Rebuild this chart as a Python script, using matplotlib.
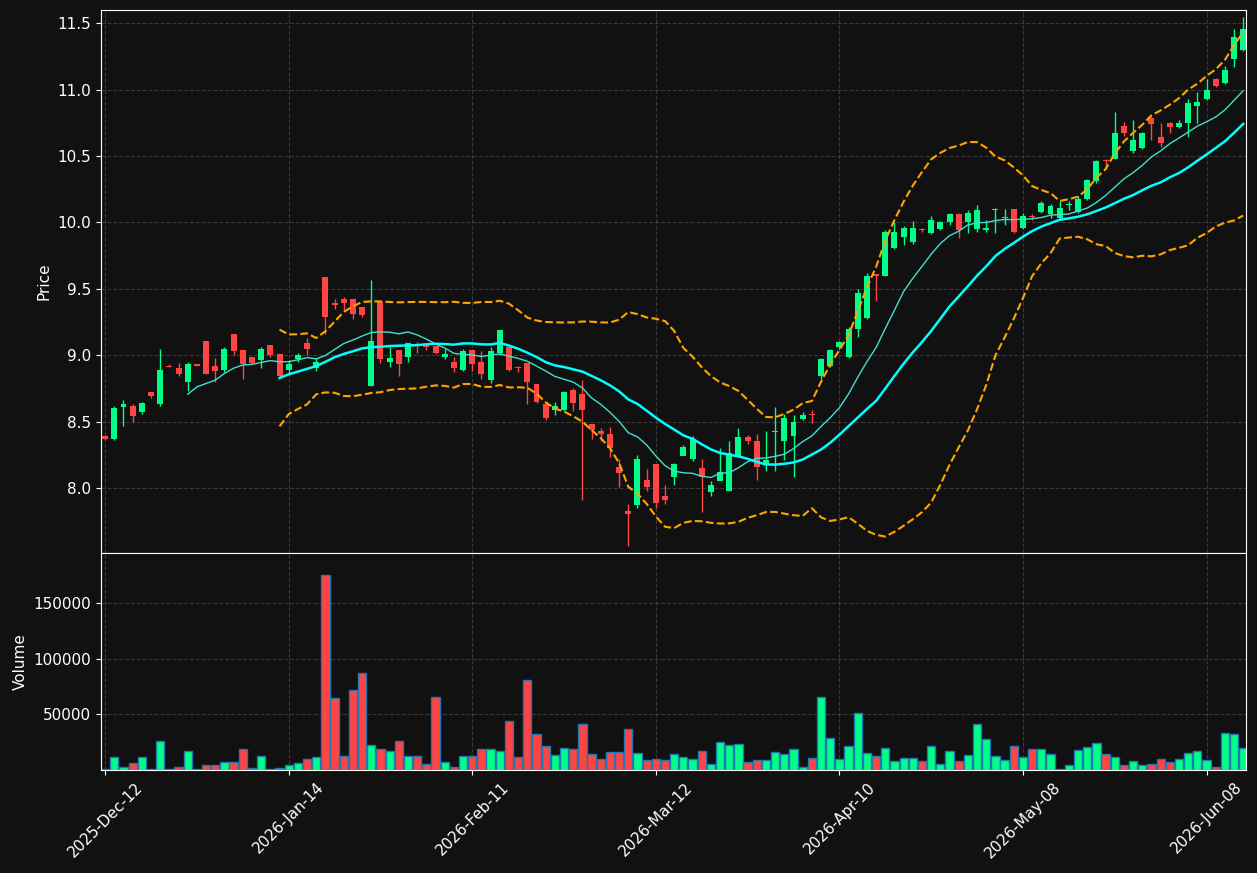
import numpy as np
import matplotlib
matplotlib.use("Agg")
import matplotlib.pyplot as plt

# daily bars
opens = [8.39, 8.37, 8.61, 8.62, 8.57, 8.72, 8.63, 8.92, 8.90, 8.80, 8.93, 9.11, 8.92, 8.89, 9.16, 9.04, 8.99, 8.96, 9.08, 9.01,
         8.89, 8.97, 9.09, 8.90, 9.59, 9.39, 9.42, 9.42, 9.36, 8.77, 9.40, 8.95, 9.04, 8.99, 9.08, 9.08, 9.07, 8.99, 8.95, 8.89,
         9.04, 8.95, 8.81, 9.02, 9.06, 8.91, 8.94, 8.78, 8.63, 8.59, 8.59, 8.74, 8.71, 8.48, 8.43, 8.41, 8.16, 7.83, 7.87, 8.06,
         8.18, 7.94, 8.08, 8.24, 8.22, 8.15, 7.97, 8.05, 7.98, 8.24, 8.38, 8.35, 8.17, 8.42, 8.35, 8.39, 8.52, 8.56, 8.84, 8.92,
         9.06, 8.99, 9.20, 9.28, 9.61, 9.60, 9.81, 9.89, 9.85, 9.95, 9.92, 9.95, 10.00, 10.06, 10.00, 9.95, 9.94, 10.09, 10.03, 10.10,
         9.96, 10.05, 10.08, 10.06, 10.03, 10.13, 10.08, 10.18, 10.31, 10.47, 10.48, 10.73, 10.54, 10.56, 10.79, 10.64, 10.75, 10.72, 10.75, 10.88,
         10.93, 11.08, 11.05, 11.23, 11.30]
closes = [8.37, 8.60, 8.63, 8.54, 8.64, 8.69, 8.89, 8.91, 8.86, 8.93, 8.92, 8.86, 8.88, 9.05, 9.03, 8.93, 8.94, 9.05, 9.00, 8.84,
          8.93, 9.00, 9.05, 8.95, 9.29, 9.38, 9.39, 9.31, 9.30, 9.11, 8.97, 8.98, 8.93, 9.09, 9.07, 9.06, 9.02, 9.01, 8.90, 9.03,
          8.93, 8.86, 9.03, 9.19, 8.89, 8.90, 8.80, 8.65, 8.53, 8.62, 8.72, 8.64, 8.59, 8.44, 8.41, 8.30, 8.11, 7.80, 8.22, 8.01,
          7.89, 7.91, 8.18, 8.31, 8.37, 8.08, 8.02, 8.12, 8.26, 8.38, 8.35, 8.16, 8.21, 8.43, 8.53, 8.50, 8.55, 8.55, 8.97, 9.04,
          9.10, 9.20, 9.47, 9.60, 9.60, 9.93, 9.93, 9.96, 9.96, 9.94, 10.02, 10.00, 10.06, 9.94, 10.07, 10.09, 9.96, 10.10, 10.04, 9.93,
          10.05, 10.04, 10.15, 10.12, 10.11, 10.14, 10.18, 10.32, 10.46, 10.46, 10.67, 10.67, 10.62, 10.67, 10.74, 10.60, 10.72, 10.75, 10.90, 10.91,
          11.00, 11.03, 11.15, 11.40, 11.46]
highs = [8.40, 8.62, 8.66, 8.63, 8.65, 8.72, 9.05, 8.93, 8.94, 8.95, 8.93, 9.11, 8.98, 9.06, 9.16, 9.04, 8.99, 9.06, 9.08, 9.01,
         8.96, 9.02, 9.13, 8.98, 9.59, 9.42, 9.44, 9.42, 9.36, 9.57, 9.40, 9.06, 9.04, 9.09, 9.10, 9.08, 9.07, 9.05, 8.99, 9.05,
         9.04, 9.03, 9.06, 9.19, 9.06, 8.92, 8.94, 8.78, 8.63, 8.65, 8.73, 8.75, 8.81, 8.48, 8.45, 8.46, 8.22, 7.88, 8.25, 8.14,
         8.18, 8.02, 8.19, 8.32, 8.39, 8.22, 8.05, 8.30, 8.35, 8.45, 8.40, 8.41, 8.43, 8.61, 8.56, 8.55, 8.57, 8.59, 8.98, 9.05,
         9.11, 9.21, 9.50, 9.62, 9.61, 9.94, 10.00, 9.97, 10.01, 9.96, 10.05, 10.01, 10.07, 10.07, 10.09, 10.13, 10.02, 10.11, 10.10, 10.10,
         10.07, 10.06, 10.16, 10.14, 10.16, 10.16, 10.20, 10.33, 10.47, 10.48, 10.83, 10.76, 10.77, 10.68, 10.80, 10.75, 10.76, 10.77, 10.93, 10.98,
         11.08, 11.09, 11.18, 11.46, 11.55]
lows = [8.36, 8.36, 8.47, 8.50, 8.56, 8.68, 8.62, 8.91, 8.84, 8.73, 8.92, 8.86, 8.80, 8.87, 9.00, 8.82, 8.93, 8.90, 8.99, 8.84,
        8.86, 8.95, 9.00, 8.88, 9.16, 9.35, 9.34, 9.27, 9.29, 8.77, 8.94, 8.91, 8.84, 8.95, 9.02, 9.04, 9.01, 8.97, 8.87, 8.88,
        8.88, 8.82, 8.79, 9.00, 8.88, 8.87, 8.63, 8.64, 8.51, 8.55, 8.58, 8.58, 7.91, 8.37, 8.35, 8.23, 8.01, 7.56, 7.85, 7.98,
        7.85, 7.88, 8.02, 8.28, 8.20, 7.82, 7.94, 8.06, 7.98, 8.23, 8.33, 8.06, 8.13, 8.13, 8.21, 8.08, 8.51, 8.49, 8.82, 8.91,
        9.05, 8.98, 9.14, 9.27, 9.41, 9.60, 9.80, 9.83, 9.84, 9.93, 9.91, 9.94, 9.98, 9.88, 9.92, 9.93, 9.93, 9.92, 9.98, 9.92,
        9.95, 10.02, 10.07, 10.03, 10.02, 10.09, 10.07, 10.17, 10.30, 10.40, 10.48, 10.65, 10.52, 10.55, 10.62, 10.57, 10.67, 10.71, 10.64, 10.75,
        10.92, 11.02, 11.04, 11.17, 11.29]
volumes = [1200, 11300, 3000, 6000, 12000, 1200, 26000, 1200, 2400, 17500, 1200, 4800, 4800, 6800, 6800, 18500, 2100, 13000, 1200, 2100,
           4200, 6000, 9500, 11300, 175600, 64900, 13000, 72000, 87200, 22900, 19000, 16700, 26500, 12200, 13000, 5000, 65800, 6800, 2400, 13000,
           13000, 19300, 18500, 16700, 44300, 11300, 81000, 32700, 22000, 13700, 20200, 18500, 41700, 14000, 9500, 15800, 15800, 37200, 14900, 8600,
           9500, 8600, 14000, 11300, 9500, 16700, 5100, 25600, 22900, 23800, 6800, 8600, 8600, 15800, 14000, 19300, 2400, 10400, 65800, 29200,
           9500, 22000, 51500, 14900, 12200, 20200, 7700, 10400, 10400, 7700, 22000, 5100, 16700, 7700, 13100, 41700, 28300, 12200, 8600, 22000,
           11300, 18500, 19300, 14000, 600, 4200, 17600, 21100, 24700, 14000, 11300, 4200, 7700, 4200, 5100, 9500, 6800, 9500, 14900, 16700,
           8600, 2400, 33600, 32700, 20200]
tick_pos = [0, 20, 40, 60, 80, 100, 120]
tick_labels = ["2025-Dec-12", "2026-Jan-14", "2026-Feb-11", "2026-Mar-12", "2026-Apr-10", "2026-May-08", "2026-Jun-08"]

o = np.array(opens); c = np.array(closes); h = np.array(highs); l = np.array(lows)
x = np.arange(len(c))
up = c >= o
UP, DOWN = "#00ff88", "#ff4444"
cols = np.where(up, UP, DOWN)

def sma(a, n):
    out = np.full(len(a), np.nan)
    for i in range(n - 1, len(a)):
        out[i] = a[i - n + 1:i + 1].mean()
    return out

ma10 = sma(c, 10)
ma20 = sma(c, 20)
std20 = np.full(len(c), np.nan)
for i in range(19, len(c)):
    std20[i] = c[i - 19:i + 1].std()
bb_up = ma20 + 2 * std20
bb_dn = ma20 - 2 * std20

bg = "#111111"
fig = plt.figure(figsize=(12.57, 8.73), dpi=100, facecolor=bg)
ax = fig.add_axes([101/1257, 1-553/873, 1145/1257, 543/873])
axv = fig.add_axes([101/1257, 1-770/873, 1145/1257, 217/873], sharex=ax)

for a in (ax, axv):
    a.set_facecolor(bg)
    for s in a.spines.values():
        s.set_color("white")
    a.tick_params(colors="white", labelsize=11)
    a.grid(True, color="#444444", linestyle="--", linewidth=0.8, alpha=0.8)
    a.set_axisbelow(True)

ax.vlines(x, l, h, colors=cols, linewidth=1)
ax.bar(x, np.maximum(np.abs(c - o), 0.006), bottom=np.minimum(o, c), width=0.65, color=cols)
ax.plot(x, ma10, color="#40e0d0", linewidth=1)
ax.plot(x, ma20, color="#00ffff", linewidth=1.8)
ax.plot(x, bb_up, color="orange", linestyle="--", linewidth=1.5)
ax.plot(x, bb_dn, color="orange", linestyle="--", linewidth=1.5)
ax.set_ylim(7.51, 11.6)
ax.set_yticks([8.0, 8.5, 9.0, 9.5, 10.0, 10.5, 11.0, 11.5])
ax.set_ylabel("Price", color="white", fontsize=11)
ax.tick_params(axis="x", labelbottom=False, length=0)

axv.bar(x, volumes, width=0.9, color=cols, edgecolor="#1f77b4", linewidth=1)
axv.set_ylim(0, 195000)
axv.set_yticks([50000, 100000, 150000])
axv.set_ylabel("Volume", color="white", fontsize=11)
axv.set_xlim(-0.45, 124.3)
axv.set_xticks(tick_pos)
axv.set_xticklabels(tick_labels, rotation=45)

fig.savefig("out.png", dpi=100, facecolor=bg)
